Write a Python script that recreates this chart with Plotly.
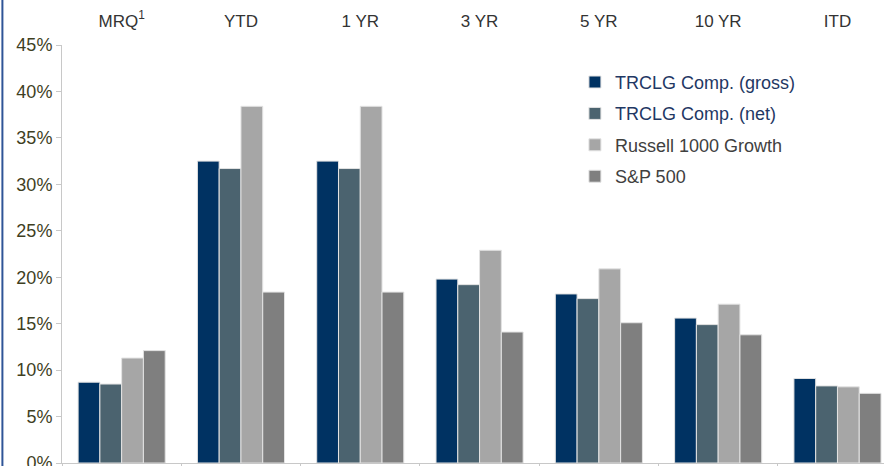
import plotly.graph_objects as go

categories = ["MRQ<sup>1</sup>", "YTD", "1 YR", "3 YR", "5 YR", "10 YR", "ITD"]
gross = [8.7, 32.5, 32.5, 19.8, 18.2, 15.6, 9.1]
net = [8.5, 31.7, 31.7, 19.2, 17.7, 14.9, 8.3]
russell = [11.3, 38.4, 38.4, 22.9, 20.9, 17.1, 8.2]
sp500 = [12.1, 18.4, 18.4, 14.1, 15.1, 13.8, 7.5]
series_names = ["TRCLG Comp. (gross)", "TRCLG Comp. (net)", "Russell 1000 Growth", "S&P 500"]
y_ticks = [0, 5, 10, 15, 20, 25, 30, 35, 40, 45]

colors = ["#003262", "#4b636f", "#a6a6a6", "#7f7f7f"]
name_colors = ["#1f3864", "#1f3864", "#404040", "#404040"]

pos = list(range(len(categories)))
fig = go.Figure()
for i, (vals, nm) in enumerate(zip([gross, net, russell, sp500], series_names)):
    fig.add_trace(go.Bar(
        x=pos, y=vals,
        name=f'<span style="color:{name_colors[i]}">{nm}</span>',
        marker=dict(color=colors[i], line=dict(color="#e3e3e3", width=1)),
        legendgroup=f"g{i}",
    ))
# invisible helper trace so the top label axis exists
fig.add_trace(go.Scatter(x=pos, y=[0] * len(pos), xaxis="x2", showlegend=False,
                         mode="markers", marker=dict(opacity=0), hoverinfo="skip"))

fig.update_layout(
    width=884, height=466,
    margin=dict(l=62, r=0, t=45, b=3, autoexpand=False),
    paper_bgcolor="white", plot_bgcolor="white",
    barmode="group", bargap=0.27, bargroupgap=0,
    font=dict(family="Liberation Sans, Arial, sans-serif", size=18, color="#404040"),
    showlegend=True,
    legend=dict(x=0.624, xanchor="left", y=0.955, yanchor="top",
                font=dict(size=18), traceorder="grouped", tracegroupgap=5,
                bgcolor="rgba(0,0,0,0)"),
    xaxis=dict(
        range=[-0.5, 6.39], showline=True, linecolor="#c8c8c8", linewidth=1,
        tickmode="array", tickvals=[p - 0.5 for p in pos] + [pos[-1] + 0.5],
        ticks="outside", ticklen=5, tickcolor="#c8c8c8", automargin=False,
        showticklabels=False, showgrid=False, zeroline=False, fixedrange=True,
    ),
    xaxis2=dict(
        overlaying="x", side="top", matches="x", anchor="y", automargin=False,
        tickmode="array", tickvals=pos, ticktext=categories,
        ticks="", showline=False, showgrid=False, zeroline=False,
        tickfont=dict(size=17, color="#333333"), ticklabelstandoff=14,
        ticklabeloverflow="allow",
    ),
    yaxis=dict(
        range=[0, 45], tickmode="array", tickvals=y_ticks,
        ticktext=[f"{v}%" for v in y_ticks], automargin=False,
        showline=True, linecolor="#c8c8c8", linewidth=1,
        ticks="outside", ticklen=5, tickcolor="#c8c8c8",
        tickfont=dict(size=18, color="#3f3f1f"), ticklabeloverflow="allow",
        showgrid=False, zeroline=False,
    ),
    shapes=[dict(type="line", xref="paper", yref="paper", x0=-0.0725, x1=-0.0725,
                 y0=-0.01, y1=1.11, line=dict(color="#2f5597", width=2))],
)

fig.write_html("out.html", config={"displayModeBar": False},
               post_script="document.body.style.margin='0';document.body.style.overflow='hidden';")
